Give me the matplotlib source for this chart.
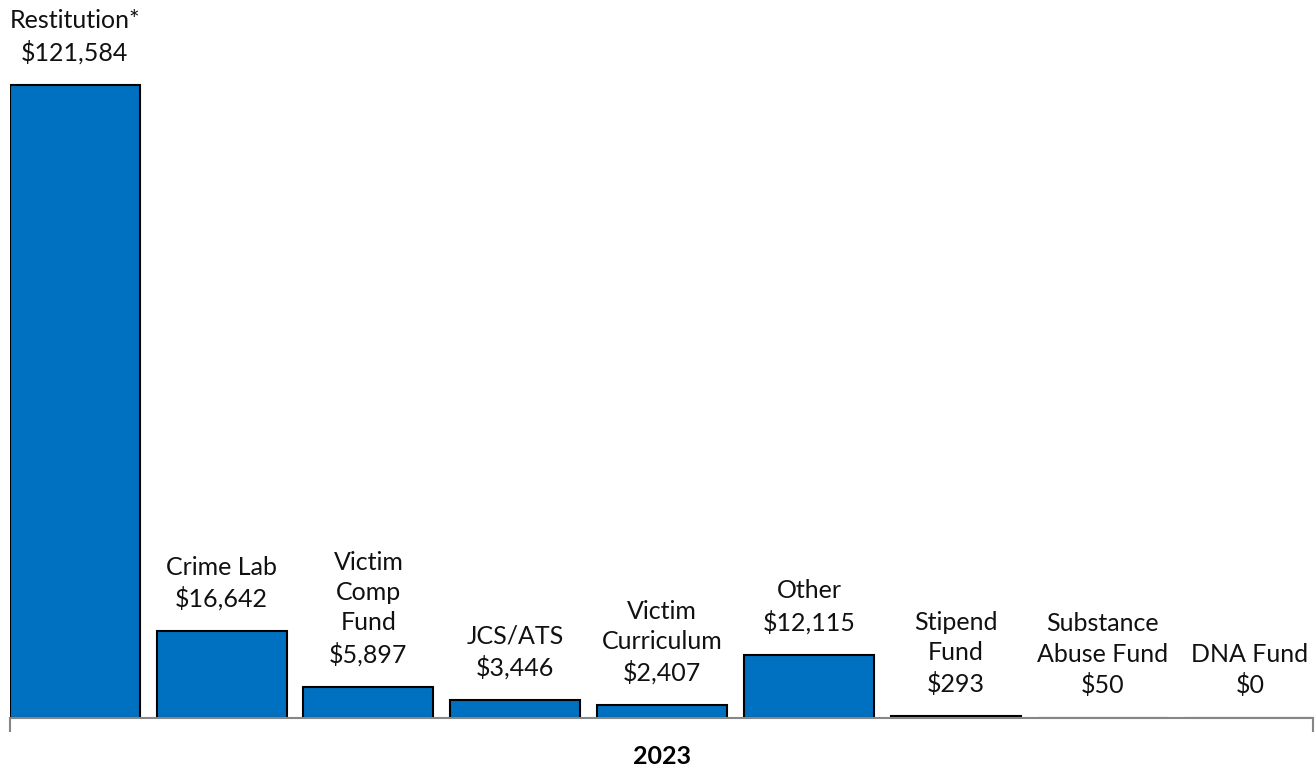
import matplotlib.pyplot as plt

# categories and values (2023)
categorias = ['Restitution*', 'Crime Lab', 'Victim\nComp\nFund', 'JCS/ATS', 'Victim\nCurriculum',
              'Other', 'Stipend\nFund', 'Substance\nAbuse Fund', 'DNA Fund']
valores = [121584, 16642, 5897, 3446, 2407, 12115, 293, 50, 0]
anio = '2023'

plt.rcParams['font.family'] = ['Lato', 'DejaVu Sans']

fig = plt.figure(figsize=(13.16, 7.67), dpi=100)
ax = fig.add_axes([10 / 1316, 49 / 767, 1303 / 1316, 708 / 767])

x = list(range(len(valores)))
ax.bar(x, valores, width=0.885, color='#0070C0', edgecolor='black', linewidth=1.5)

# etiquetas encima de cada barra
for xi, v, c in zip(x, valores, categorias):
    ax.annotate(f"{c}\n${v:,}", (xi, v), xytext=(0, 15), textcoords='offset points',
                ha='center', va='bottom', fontsize=18, linespacing=1.37, color='#111111')

ax.set_xlim(-0.44, 8.43)
ax.set_ylim(0, 121584 * 708 / 633)

for s in ['top', 'right', 'left']:
    ax.spines[s].set_visible(False)
ax.spines['bottom'].set_color('#868686')
ax.spines['bottom'].set_linewidth(1.5)
ax.set_yticks([])
ax.set_xticks(ax.get_xlim())
ax.set_xticklabels([])
ax.tick_params(axis='x', length=10, width=1.5, color='#868686')
ax.set_xlabel(anio, fontsize=18, fontweight='bold', va='center')
ax.xaxis.set_label_coords(0.5, -38 / 708)

fig.savefig('out.png', dpi=100)
